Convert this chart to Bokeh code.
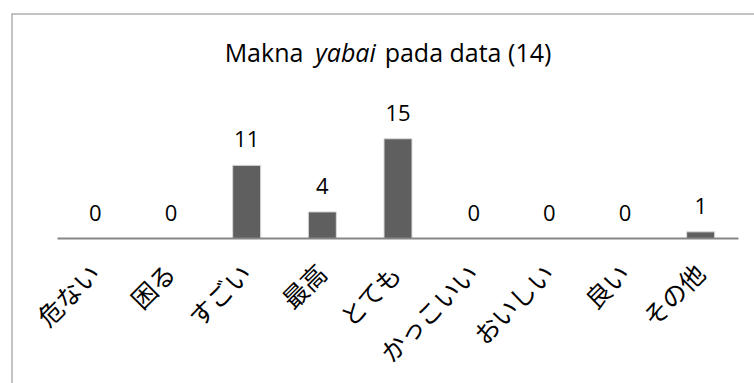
import math
from bokeh.plotting import figure
from bokeh.models import ColumnDataSource, Range1d, Label, Span
from bokeh.core.properties import value
from bokeh.transform import dodge
from bokeh.embed import file_html
from bokeh.resources import INLINE

# Meanings of "yabai" found in the data
categories = ["危ない", "困る", "すごい", "最高", "とても", "かっこいい", "おいしい", "良い", "その他"]
counts = [0, 0, 11, 4, 15, 0, 0, 0, 1]

# one slot per category, centred at i + 0.5
pos = [i + 0.5 for i in range(len(categories))]
source = ColumnDataSource(data=dict(x=pos, cat=categories, n=counts, lbl=[str(v) for v in counts]))

W, H = 754, 383
frame_left, frame_top = 11, 13
slot_px = (738 - 57) / len(categories)          # width of one category slot
unit_px = 6.65                                  # pixels per count
zero_px = 238 - frame_top                       # baseline below frame top

x_start = -(57 - frame_left) / slot_px
x_end = x_start + (W - frame_left) / slot_px
y_end = zero_px / unit_px
y_start = -(H - frame_top - zero_px) / unit_px

p = figure(
    x_range=Range1d(x_start, x_end),
    y_range=Range1d(y_start, y_end),
    width=W, height=H,
    output_backend="svg", toolbar_location=None,
    min_border_left=frame_left, min_border_right=0,
    min_border_top=frame_top, min_border_bottom=0,
)
p.background_fill_color = "white"
p.border_fill_color = "white"
p.outline_line_color = None
p.grid.visible = False
p.xaxis.visible = False
p.yaxis.visible = False

# chart-area border: top and left edges
p.add_layout(Span(location=x_start, dimension="height", line_color="#888888", line_width=2))
p.add_layout(Span(location=y_end, dimension="width", line_color="#888888", line_width=2))

p.vbar(x="x", top="n", width=0.37, source=source,
       fill_color="#5f5f5f", line_color="#dadada", line_width=1)

# category axis line, drawn over the bar bottoms
p.segment(x0=0, y0=0, x1=len(categories), y1=0, line_color="#868686", line_width=2)

# value labels above bars
p.text(x="x", y="n", text="lbl", source=source,
       text_align="center", text_baseline="middle", y_offset=-26,
       text_font=value("Open Sans"), text_font_size="22px", text_color="#000000")

# rotated category labels, right end hanging just below the axis
p.text(x=dodge("x", -14 / slot_px), y=-16.5 / unit_px, text="cat", source=source,
       angle=math.pi / 4, text_align="right", text_baseline="top",
       text_font=value("Noto Sans CJK JP"), text_font_size="25px", text_color="#000000")

# Title: "Makna yabai pada data (14)" with the Japanese word in italics
for txt, x, style in [("Makna", 263.5, "normal"), ("yabai", 345, "italic"), ("pada data (14)", 467.5, "normal")]:
    p.add_layout(Label(x=x - frame_left, y=H - 51, x_units="screen", y_units="screen", text=txt,
                       text_font="Open Sans", text_font_size="25px", text_font_style=style,
                       text_baseline="alphabetic", text_align="center", text_color="#000000"))

open("out.html", "w").write(file_html(p, INLINE))
